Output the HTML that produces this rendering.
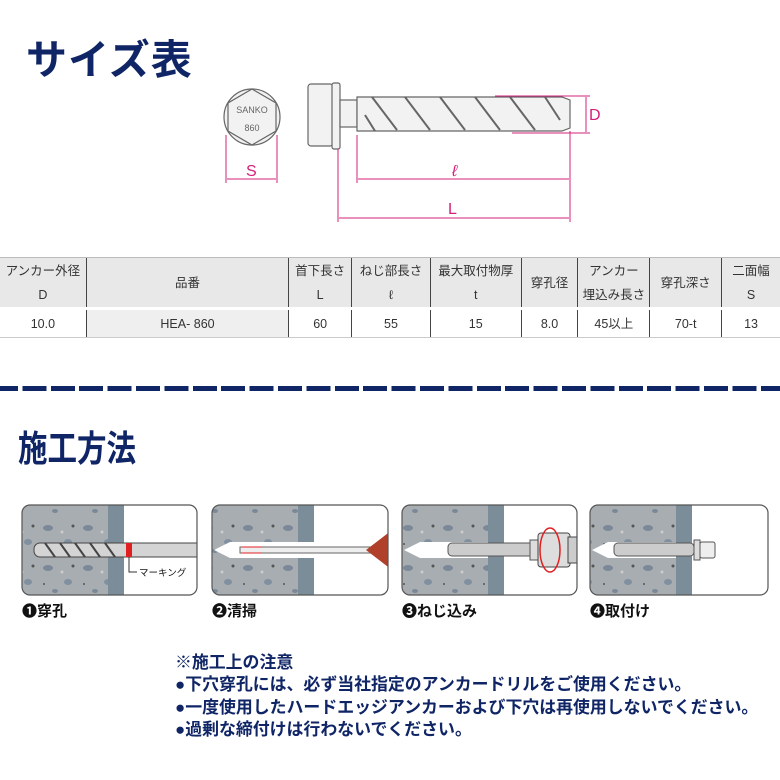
<!DOCTYPE html>
<html><head><meta charset="utf-8"><style>
body{margin:0;width:780px;height:780px;background:#fff;overflow:hidden;font-family:"Liberation Sans","Noto Sans CJK JP",sans-serif;position:relative}
.t{position:absolute;font-weight:bold;color:#0f2566}
table{position:absolute;left:0;top:257px;border-collapse:collapse;font-size:12.5px;color:#333}
td{text-align:center;border-left:1px solid #444;padding:0;line-height:24px}
td:first-child{border-left:none}
tr.h td{background:#e8e8e8;height:49px;border-top:1px solid #bbb}
tr.d td{height:27px;border-top:3px solid #fff;background:#fff;border-bottom:1px solid #ccc}
.notes{position:absolute;left:175px;top:652px;font-size:16.9px;font-weight:bold;color:#0f2566;line-height:22.3px;white-space:nowrap}
.lbl{position:absolute;top:600px;font-size:15px;font-weight:bold;color:#111}
</style></head><body>
<div class="t" style="left:26px;top:26px;font-size:41px;letter-spacing:1px">サイズ表</div>

<svg style="position:absolute;left:0;top:0" width="780" height="250">
 <g stroke="#666" fill="#f2f2f2" stroke-width="1.2">
  <circle cx="252" cy="117" r="28"/>
  <polygon points="252,89 276,103 276,131 252,145 228,131 228,103" fill="none"/>
  <rect x="308" y="84" width="25" height="62" rx="3"/>
  <rect x="332" y="83" width="8" height="66" rx="2"/>
  <rect x="340" y="100" width="17" height="27"/>
  <polygon points="357,97 562,97 570,100 570,128 562,131 357,131"/>
 </g>
 <g stroke="#666" stroke-width="2" fill="none">
  <path d="M372,97 l25,33 M405,97 l25,33 M440,97 l25,33 M475,97 l25,33 M510,97 l25,33 M545,97 l15,23 M365,115 l10,16"/>
 </g>
 <text x="252" y="113" font-size="9" text-anchor="middle" fill="#666" font-family="Liberation Sans">SANKO</text>
 <text x="252" y="131" font-size="9" text-anchor="middle" fill="#666" font-family="Liberation Sans">860</text>
 <g stroke="#d4207a" stroke-width="1" fill="#d4207a">
  <line x1="226" y1="135" x2="226" y2="183"/><line x1="277" y1="135" x2="277" y2="183"/>
  <line x1="227" y1="179" x2="276" y2="179"/>
  <line x1="357" y1="135" x2="357" y2="183"/><line x1="570" y1="131" x2="570" y2="222"/>
  <line x1="358" y1="179" x2="569" y2="179"/>
  <line x1="338" y1="149" x2="338" y2="222"/>
  <line x1="339" y1="218" x2="569" y2="218"/>
  <line x1="495" y1="96" x2="590" y2="96"/><line x1="512" y1="133" x2="590" y2="133"/>
  <line x1="586" y1="97" x2="586" y2="132"/>
 </g>
 <g fill="#d4207a" font-family="Liberation Sans" font-size="16">
  <text x="246" y="176">S</text><text x="452" y="176" font-style="italic">ℓ</text>
  <text x="448" y="214">L</text><text x="589" y="120">D</text>
 </g>
</svg>

<table>
<tr class="h"><td style="width:86px">アンカー外径<br>D</td><td style="width:202px">品番</td><td style="width:62px">首下長さ<br>L</td><td style="width:78px">ねじ部長さ<br>ℓ</td><td style="width:90px">最大取付物厚<br>t</td><td style="width:56px">穿孔径</td><td style="width:71px">アンカー<br>埋込み長さ</td><td style="width:71px">穿孔深さ</td><td style="width:58px">二面幅<br>S</td></tr>
<tr class="d"><td>10.0</td><td style="background:#efefef">HEA- 860</td><td>60</td><td>55</td><td>15</td><td>8.0</td><td>45以上</td><td>70-t</td><td>13</td></tr>
</table>

<div style="position:absolute;left:-6px;top:386px;width:800px;height:5px;background:repeating-linear-gradient(90deg,#0f2566 0 24px,transparent 24px 28.4px)"></div>
<div class="t" style="left:18px;top:420px;font-size:36px;transform:scaleX(0.82);transform-origin:left top">施工方法</div>

<svg style="position:absolute;left:0;top:0" width="780" height="780">
 <defs>
  <pattern id="c" width="40" height="40" patternUnits="userSpaceOnUse">
   <rect width="40" height="40" fill="#a8adb2"/>
   <ellipse cx="8" cy="8" rx="5" ry="3" fill="#7a8898"/>
   <ellipse cx="28" cy="22" rx="4" ry="3" fill="#8090a0"/>
   <ellipse cx="15" cy="31" rx="3" ry="2" fill="#7a8898"/>
   <circle cx="33" cy="6" r="1.5" fill="#555"/><circle cx="4" cy="24" r="1" fill="#555"/>
   <circle cx="22" cy="12" r="1.5" fill="#ccc"/>
  </pattern>
  <clipPath id="p1"><rect x="22" y="505" width="175" height="90" rx="8"/></clipPath>
  <clipPath id="p2"><rect x="212" y="505" width="176" height="90" rx="8"/></clipPath>
  <clipPath id="p3"><rect x="402" y="505" width="175" height="90" rx="8"/></clipPath>
  <clipPath id="p4"><rect x="590" y="505" width="178" height="90" rx="8"/></clipPath>
 </defs>
 <g clip-path="url(#p1)"><rect x="22" y="505" width="86" height="90" fill="url(#c)"/><rect x="108" y="505" width="16" height="90" fill="#7b8d99"/>
  <rect x="34" y="543" width="170" height="14" rx="6" fill="#d4d4d4" stroke="#444"/>
  <path d="M45,543 l10,14 M60,543 l10,14 M75,543 l10,14 M90,543 l10,14 M105,543 l10,14" stroke="#444" stroke-width="2"/>
  <rect x="126" y="543" width="6" height="14" fill="#e02020"/>
 </g>
 <path d="M129,557 V572 h8" stroke="#333" fill="none"/>
 <text x="139" y="576" font-size="9.5" fill="#111">マーキング</text>
 <g clip-path="url(#p2)"><rect x="212" y="505" width="86" height="90" fill="url(#c)"/><rect x="298" y="505" width="16" height="90" fill="#7b8d99"/>
  <polygon points="214,550 230,542 314,542 314,558 230,558" fill="#fff"/>
  <rect x="240" y="547" width="140" height="6" fill="#eee" stroke="#666"/>
  <path d="M366,550 L392,530 V570 Z" fill="#b0402a"/>
  <path d="M242,547 h20 M242,553 h20" stroke="#e02020"/>
 </g>
 <g clip-path="url(#p3)"><rect x="402" y="505" width="86" height="90" fill="url(#c)"/><rect x="488" y="505" width="16" height="90" fill="#7b8d99"/>
  <polygon points="404,550 420,542 488,542 488,558 420,558" fill="#fff"/>
  <rect x="448" y="543" width="90" height="13" rx="4" fill="#ccc" stroke="#555"/>
  <rect x="530" y="540" width="8" height="20" fill="#ddd" stroke="#555"/>
  <rect x="538" y="533" width="32" height="34" rx="3" fill="#ddd" stroke="#444"/>
  <rect x="568" y="537" width="12" height="26" fill="#ccc" stroke="#444"/>
  <ellipse cx="550" cy="550" rx="10" ry="22" fill="none" stroke="#e02020" stroke-width="1.5"/>
 </g>
 <g clip-path="url(#p4)"><rect x="590" y="505" width="86" height="90" fill="url(#c)"/><rect x="676" y="505" width="16" height="90" fill="#7b8d99"/>
  <polygon points="592,550 608,542 676,542 676,558 608,558" fill="#fff"/>
  <rect x="614" y="543" width="80" height="13" rx="4" fill="#ccc" stroke="#555"/>
  <rect x="694" y="540" width="6" height="20" fill="#ddd" stroke="#555"/>
  <rect x="700" y="542" width="15" height="16" rx="2" fill="#eee" stroke="#555"/>
 </g>
 <g fill="none" stroke="#555" stroke-width="1.2">
  <rect x="22" y="505" width="175" height="90" rx="8"/><rect x="212" y="505" width="176" height="90" rx="8"/>
  <rect x="402" y="505" width="175" height="90" rx="8"/><rect x="590" y="505" width="178" height="90" rx="8"/>
 </g>
</svg>
<div class="lbl" style="left:22px">❶穿孔</div>
<div class="lbl" style="left:212px">❷清掃</div>
<div class="lbl" style="left:402px">❸ねじ込み</div>
<div class="lbl" style="left:590px">❹取付け</div>

<div class="notes">※施工上の注意<br>●下穴穿孔には、必ず当社指定のアンカードリルをご使用ください。<br>●一度使用したハードエッジアンカーおよび下穴は再使用しないでください。<br>●過剰な締付けは行わないでください。</div>
</body></html>
